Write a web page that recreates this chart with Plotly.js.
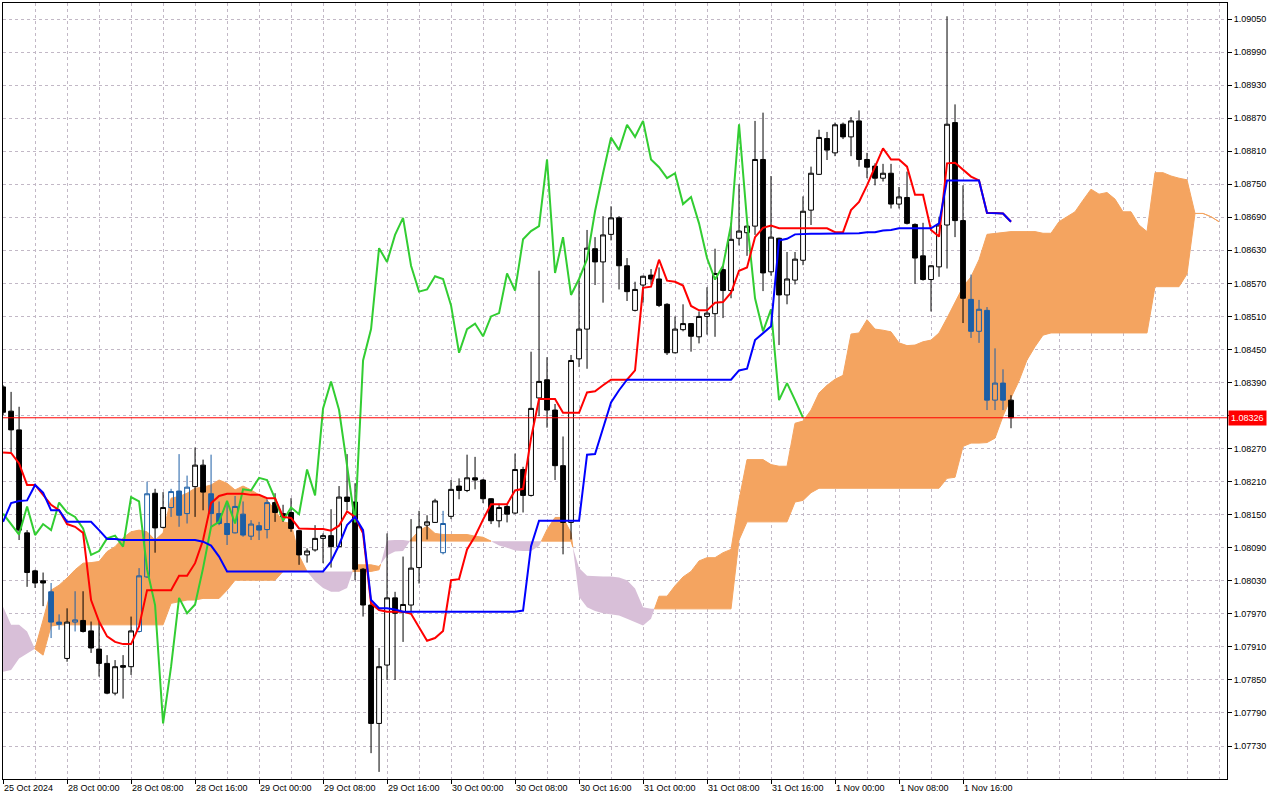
<!DOCTYPE html>
<html>
<head>
<meta charset="utf-8">
<script src="https://cdn.plot.ly/plotly-3.0.1.min.js"></script>
<style>
html,body{margin:0;padding:0;background:#ffffff;}
#chart{width:1280px;height:800px;}
</style>
</head>
<body>
<div id="chart"></div>
<script>
// ---- time axis labels (one every 8 hourly bars) ----
const timeLabels = ["25 Oct 2024","28 Oct 00:00","28 Oct 08:00","28 Oct 16:00","29 Oct 00:00","29 Oct 08:00","29 Oct 16:00","30 Oct 00:00","30 Oct 08:00","30 Oct 16:00","31 Oct 00:00","31 Oct 08:00","31 Oct 16:00","1 Nov 00:00","1 Nov 08:00","1 Nov 16:00"];

// ---- price axis labels ----
const priceTicks = [1.07730,1.07790,1.07850,1.07910,1.07970,1.08030,1.08090,1.08150,1.08210,1.08270,1.08330,1.08390,1.08450,1.08510,1.08570,1.08630,1.08690,1.08750,1.08810,1.08870,1.08930,1.08990,1.09050];
const lastPrice = 1.08326;

// ---- EURUSD H1 candles ----
const openP = [1.08382,1.08338,1.08304,1.08117,1.08048,1.08030,1.08010,1.07955,1.07889,1.07955,
1.07958,1.07939,1.07906,1.07880,1.07826,1.07876,1.07874,1.07938,1.08037,1.08189,
1.08127,1.08163,1.08193,1.08152,1.08201,1.08240,1.08188,1.08152,1.08134,1.08117,
1.08151,1.08111,1.08130,1.08123,1.08172,1.08152,1.08154,1.08121,1.08077,1.08086,
1.08107,1.08112,1.08092,1.08182,1.08173,1.08051,1.07986,1.07771,1.07877,1.07999,
1.07973,1.07986,1.08054,1.08131,1.08136,1.08081,1.08147,1.08202,1.08194,1.08217,
1.08213,1.08179,1.08139,1.08165,1.08153,1.08232,1.08185,1.08362,1.08395,1.08340,
1.08239,1.08136,1.08433,1.08487,1.08633,1.08609,1.08659,1.08689,1.08602,1.08521,
1.08567,1.08585,1.08578,1.08532,1.08444,1.08486,1.08497,1.08473,1.08510,1.08515,
1.08595,1.08557,1.08652,1.08662,1.08674,1.08795,1.08591,1.08652,1.08549,1.08576,
1.08612,1.08703,1.08768,1.08833,1.08807,1.08859,1.08836,1.08865,1.08795,1.08783,
1.08761,1.08770,1.08714,1.08726,1.08677,1.08620,1.08577,1.08600,1.08676,1.08862,
1.08684,1.08541,1.08483,1.08521,1.08358,1.08389,1.08358];

const highP = [1.08385,1.08373,1.08346,1.08122,1.08050,1.08045,1.08026,1.07969,1.07980,1.08011,
1.08011,1.07956,1.07955,1.07895,1.07886,1.07895,1.07965,1.08053,1.08210,1.08197,
1.08191,1.08197,1.08260,1.08221,1.08272,1.08250,1.08259,1.08174,1.08174,1.08184,
1.08174,1.08140,1.08137,1.08178,1.08189,1.08168,1.08180,1.08122,1.08089,1.08131,
1.08116,1.08160,1.08202,1.08260,1.08207,1.08053,1.07989,1.07908,1.08116,1.08010,
1.08074,1.08142,1.08157,1.08149,1.08179,1.08157,1.08213,1.08216,1.08259,1.08255,
1.08215,1.08180,1.08170,1.08168,1.08261,1.08237,1.08446,1.08593,1.08436,1.08351,
1.08292,1.08440,1.08575,1.08667,1.08654,1.08692,1.08710,1.08692,1.08616,1.08573,
1.08584,1.08596,1.08599,1.08534,1.08510,1.08532,1.08498,1.08519,1.08563,1.08633,
1.08602,1.08680,1.08750,1.08675,1.08865,1.08880,1.08765,1.08653,1.08627,1.08627,
1.08728,1.08782,1.08849,1.08845,1.08862,1.08862,1.08872,1.08884,1.08807,1.08788,
1.08787,1.08787,1.08745,1.08773,1.08679,1.08680,1.08603,1.08691,1.09055,1.08895,
1.08748,1.08586,1.08540,1.08527,1.08452,1.08414,1.08367];

const lowP = [1.08331,1.08264,1.08104,1.08019,1.08017,1.07984,1.07926,1.07941,1.07883,1.07938,
1.07936,1.07899,1.07856,1.07824,1.07822,1.07816,1.07859,1.07936,1.08035,1.08081,
1.08125,1.08146,1.08128,1.08134,1.08146,1.08158,1.08128,1.08131,1.08095,1.08116,
1.08110,1.08104,1.08104,1.08107,1.08137,1.08137,1.08119,1.08059,1.08063,1.08083,
1.08062,1.08054,1.08091,1.08158,1.08031,1.07965,1.07717,1.07683,1.07850,1.07850,
1.07919,1.07973,1.08025,1.08105,1.08135,1.08078,1.08142,1.08178,1.08191,1.08196,
1.08171,1.08133,1.08127,1.08136,1.08151,1.08154,1.08183,1.08329,1.08308,1.08213,
1.08078,1.08105,1.08418,1.08415,1.08567,1.08535,1.08648,1.08559,1.08538,1.08519,
1.08535,1.08568,1.08527,1.08440,1.08443,1.08483,1.08446,1.08461,1.08477,1.08473,
1.08507,1.08543,1.08639,1.08620,1.08658,1.08556,1.08584,1.08458,1.08532,1.08568,
1.08603,1.08676,1.08767,1.08794,1.08801,1.08832,1.08801,1.08782,1.08761,1.08748,
1.08755,1.08706,1.08706,1.08677,1.08569,1.08575,1.08519,1.08582,1.08597,1.08654,
1.08498,1.08471,1.08462,1.08340,1.08340,1.08340,1.08307];

const closeP = [1.08336,1.08304,1.08122,1.08045,1.08026,1.08026,1.07955,1.07951,1.07955,1.07959,
1.07938,1.07908,1.07880,1.07826,1.07874,1.07873,1.07939,1.08039,1.08188,1.08126,
1.08163,1.08192,1.08149,1.08200,1.08240,1.08191,1.08152,1.08134,1.08114,1.08165,
1.08113,1.08133,1.08122,1.08172,1.08154,1.08146,1.08125,1.08077,1.08084,1.08107,
1.08112,1.08092,1.08182,1.08174,1.08051,1.07986,1.07771,1.07874,1.07999,1.07971,
1.07987,1.08053,1.08128,1.08137,1.08175,1.08134,1.08196,1.08194,1.08217,1.08213,
1.08179,1.08139,1.08163,1.08151,1.08232,1.08185,1.08343,1.08392,1.08340,1.08239,
1.08136,1.08430,1.08487,1.08634,1.08609,1.08658,1.08689,1.08602,1.08555,1.08559,
1.08583,1.08578,1.08530,1.08444,1.08487,1.08497,1.08474,1.08510,1.08516,1.08588,
1.08557,1.08650,1.08665,1.08674,1.08795,1.08589,1.08654,1.08549,1.08578,1.08614,
1.08701,1.08770,1.08835,1.08812,1.08858,1.08836,1.08865,1.08795,1.08781,1.08761,
1.08770,1.08714,1.08727,1.08679,1.08616,1.08577,1.08602,1.08676,1.08859,1.08684,
1.08543,1.08483,1.08523,1.08358,1.08389,1.08358,1.08326];

// ---- Ichimoku lines ----
const tenkan = [1.08263,1.08262,1.08243,1.08204,1.08204,1.08186,1.08168,1.08158,1.08133,1.08128,
1.08117,1.07995,1.07956,1.07929,1.07919,1.07915,1.07915,1.07947,1.08013,1.08013,
1.08013,1.08013,1.08039,1.08039,1.08062,1.08104,1.08171,1.08184,1.08188,1.08188,
1.08188,1.08186,1.08186,1.08180,1.08180,1.08146,1.08144,1.08125,1.08124,1.08124,
1.08124,1.08121,1.08130,1.08156,1.08146,1.08116,1.07989,1.07977,1.07974,1.07974,
1.07974,1.07970,1.07946,1.07921,1.07926,1.07939,1.08031,1.08033,1.08087,1.08111,
1.08141,1.08169,1.08169,1.08169,1.08194,1.08197,1.08289,1.08360,1.08360,1.08360,
1.08335,1.08335,1.08335,1.08372,1.08374,1.08385,1.08395,1.08395,1.08395,1.08412,
1.08562,1.08564,1.08613,1.08575,1.08573,1.08566,1.08529,1.08521,1.08521,1.08535,
1.08536,1.08553,1.08593,1.08599,1.08654,1.08671,1.08675,1.08670,1.08670,1.08670,
1.08670,1.08670,1.08670,1.08670,1.08663,1.08663,1.08703,1.08718,1.08748,1.08782,
1.08815,1.08795,1.08795,1.08782,1.08731,1.08731,1.08667,1.08655,1.08788,1.08789,
1.08776,1.08764,1.08757,1.08698,1.08698,1.08697,1.08682];

const kijun = [1.08137,1.08171,1.08175,1.08176,1.08204,1.08190,1.08158,1.08158,1.08137,1.08137,
1.08137,1.08137,1.08122,1.08106,1.08106,1.08104,1.08104,1.08104,1.08104,1.08104,
1.08104,1.08104,1.08104,1.08104,1.08104,1.08101,1.08094,1.08074,1.08047,1.08047,
1.08047,1.08047,1.08047,1.08047,1.08047,1.08047,1.08047,1.08047,1.08047,1.08047,
1.08047,1.08065,1.08095,1.08131,1.08146,1.08122,1.07995,1.07980,1.07980,1.07978,
1.07974,1.07974,1.07974,1.07974,1.07974,1.07974,1.07974,1.07974,1.07974,1.07974,
1.07974,1.07974,1.07974,1.07974,1.07974,1.07976,1.08093,1.08139,1.08139,1.08139,
1.08139,1.08139,1.08139,1.08259,1.08260,1.08307,1.08354,1.08376,1.08395,1.08395,
1.08395,1.08395,1.08395,1.08395,1.08395,1.08395,1.08395,1.08395,1.08395,1.08395,
1.08395,1.08395,1.08412,1.08415,1.08467,1.08479,1.08492,1.08648,1.08651,1.08659,
1.08660,1.08660,1.08660,1.08660,1.08660,1.08660,1.08660,1.08661,1.08663,1.08663,
1.08666,1.08667,1.08670,1.08670,1.08670,1.08670,1.08670,1.08679,1.08757,1.08757,
1.08757,1.08757,1.08757,1.08698,1.08698,1.08697,1.08682];

// lagging span, plotted 26 bars back (bars 0..100)
const chikou = [1.08152,1.08134,1.08114,1.08165,1.08113,1.08133,1.08122,1.08172,1.08154,1.08146,
1.08125,1.08077,1.08084,1.08107,1.08112,1.08092,1.08182,1.08174,1.08051,1.07986,
1.07771,1.07874,1.07999,1.07971,1.07987,1.08053,1.08128,1.08137,1.08175,1.08134,
1.08196,1.08194,1.08217,1.08213,1.08179,1.08139,1.08163,1.08151,1.08232,1.08185,
1.08343,1.08392,1.08340,1.08239,1.08136,1.08430,1.08487,1.08634,1.08609,1.08658,
1.08689,1.08602,1.08555,1.08559,1.08583,1.08578,1.08530,1.08444,1.08487,1.08497,
1.08474,1.08510,1.08516,1.08588,1.08557,1.08650,1.08665,1.08674,1.08795,1.08589,
1.08654,1.08549,1.08578,1.08614,1.08701,1.08770,1.08835,1.08812,1.08858,1.08836,
1.08865,1.08795,1.08781,1.08761,1.08770,1.08714,1.08727,1.08679,1.08616,1.08577,
1.08602,1.08676,1.08859,1.08684,1.08543,1.08483,1.08523,1.08358,1.08389,1.08358,
1.08326];

// leading spans, plotted 26 bars ahead (bars 0..152)
const spanA = [1.07865,1.07868,1.07889,1.07898,1.07907,1.07959,1.08013,1.08022,1.08035,1.08050,
1.08062,1.08063,1.08065,1.08083,1.08092,1.08108,1.08119,1.08122,1.08119,1.08104,
1.08117,1.08180,1.08183,1.08189,1.08198,1.08200,1.08204,1.08213,1.08207,1.08195,
1.08202,1.08195,1.08186,1.08177,1.08158,1.08137,1.08134,1.08076,1.08047,1.08029,
1.08017,1.08010,1.08010,1.08017,1.08059,1.08059,1.08059,1.08056,1.08076,1.08083,
1.08084,1.08105,1.08121,1.08129,1.08116,1.08114,1.08114,1.08114,1.08114,1.08111,
1.08109,1.08102,1.08094,1.08090,1.08085,1.08084,1.08084,1.08093,1.08123,1.08145,
1.08145,1.08117,1.08001,1.07982,1.07975,1.07971,1.07969,1.07967,1.07961,1.07955,
1.07949,1.07961,1.08002,1.08002,1.08021,1.08037,1.08047,1.08066,1.08072,1.08072,
1.08081,1.08087,1.08177,1.08250,1.08250,1.08250,1.08241,1.08238,1.08238,1.08316,
1.08320,1.08340,1.08371,1.08385,1.08396,1.08403,1.08478,1.08480,1.08504,1.08487,
1.08485,1.08482,1.08462,1.08457,1.08458,1.08464,1.08467,1.08480,1.08507,1.08537,
1.08564,1.08582,1.08613,1.08659,1.08661,1.08663,1.08664,1.08664,1.08664,1.08664,
1.08661,1.08661,1.08682,1.08691,1.08700,1.08721,1.08741,1.08732,1.08735,1.08723,
1.08700,1.08700,1.08676,1.08664,1.08771,1.08771,1.08765,1.08761,1.08758,1.08697,
1.08697,1.08691,1.08682];

const spanB = [1.07983,1.07950,1.07950,1.07938,1.07906,1.07895,1.07948,1.07950,1.07950,1.07950,
1.07950,1.07950,1.07950,1.07950,1.07950,1.07950,1.07950,1.07950,1.07950,1.07950,
1.07950,1.07989,1.07992,1.07995,1.07995,1.07998,1.07998,1.07998,1.08013,1.08031,
1.08031,1.08031,1.08031,1.08031,1.08031,1.08047,1.08047,1.08047,1.08047,1.08047,
1.08047,1.08047,1.08047,1.08047,1.08047,1.08047,1.08047,1.08050,1.08103,1.08104,
1.08104,1.08102,1.08102,1.08102,1.08102,1.08102,1.08102,1.08102,1.08102,1.08102,
1.08102,1.08102,1.08102,1.08102,1.08102,1.08102,1.08102,1.08102,1.08102,1.08102,
1.08102,1.08102,1.08053,1.08039,1.08038,1.08038,1.08038,1.08036,1.08031,1.08016,
1.07982,1.07979,1.07979,1.07979,1.07979,1.07979,1.07979,1.07979,1.07979,1.07979,
1.07979,1.07979,1.08104,1.08137,1.08137,1.08137,1.08137,1.08137,1.08137,1.08173,
1.08176,1.08190,1.08198,1.08198,1.08198,1.08198,1.08198,1.08198,1.08198,1.08198,
1.08198,1.08198,1.08198,1.08198,1.08198,1.08198,1.08198,1.08198,1.08216,1.08218,
1.08274,1.08280,1.08280,1.08281,1.08289,1.08329,1.08362,1.08393,1.08431,1.08455,
1.08476,1.08480,1.08480,1.08480,1.08480,1.08480,1.08480,1.08480,1.08480,1.08480,
1.08480,1.08480,1.08480,1.08480,1.08564,1.08564,1.08564,1.08564,1.08587,1.08697,
1.08697,1.08691,1.08682];

// ---------- build traces ----------
const COL_BULL_CLOUD = '#f4a460';
const COL_BEAR_CLOUD = '#d8bfd8';
const GRID = '#c2b8c6';
const FONT = 'Liberation Sans, Arial, sans-serif';

const barX = closeP.map((_, i) => i);
const chikouX = chikou.map((_, i) => i);

function cloudPolygons(sign) {
  const xs = [], ys = [];
  let top = [], bot = [];
  const n = spanA.length;
  const flush = () => {
    if (top.length > 1) {
      for (const p of top) { xs.push(p[0]); ys.push(p[1]); }
      for (let k = bot.length - 1; k >= 0; k--) { xs.push(bot[k][0]); ys.push(bot[k][1]); }
      xs.push(top[0][0]); ys.push(top[0][1]);
      xs.push(null); ys.push(null);
    }
    top = []; bot = [];
  };
  for (let i = 0; i < n; i++) {
    const d = sign * (spanA[i] - spanB[i]);
    if (d >= 0) { top.push([i, spanA[i]]); bot.push([i, spanB[i]]); }
    if (i < n - 1) {
      const d2 = sign * (spanA[i + 1] - spanB[i + 1]);
      if ((d >= 0) !== (d2 >= 0)) {
        const t = d / (d - d2);
        const xc = i + t, yc = spanA[i] + t * (spanA[i + 1] - spanA[i]);
        top.push([xc, yc]); bot.push([xc, yc]);
        if (d >= 0) flush();
      }
    }
  }
  flush();
  return { xs, ys };
}

const bull = cloudPolygons(1);
const bear = cloudPolygons(-1);

// candles whose body sits inside the cloud are drawn in the blended (blue) style
function inCloud(i) {
  const m = (openP[i] + closeP[i]) / 2;
  const lo = Math.min(spanA[i], spanB[i]), hi = Math.max(spanA[i], spanB[i]);
  return m > lo && m < hi;
}
const pick = (arr, want) => arr.map((v, i) => (inCloud(i) === want ? v : null));

const traces = [
  { type: 'scatter', mode: 'lines', x: bear.xs, y: bear.ys, fill: 'toself', fillcolor: COL_BEAR_CLOUD,
    line: { width: 0, color: COL_BEAR_CLOUD }, hoverinfo: 'skip', xaxis: 'x', yaxis: 'y', connectgaps: false },
  { type: 'scatter', mode: 'lines', x: bull.xs, y: bull.ys, fill: 'toself', fillcolor: COL_BULL_CLOUD,
    line: { width: 1, color: COL_BULL_CLOUD }, hoverinfo: 'skip', xaxis: 'x', yaxis: 'y', connectgaps: false },
  { type: 'candlestick', x: barX, open: pick(openP, false), high: pick(highP, false), low: pick(lowP, false), close: pick(closeP, false),
    increasing: { line: { color: '#000000', width: 1 }, fillcolor: '#ffffff' },
    decreasing: { line: { color: '#000000', width: 1 }, fillcolor: '#000000' },
    whiskerwidth: 0, hoverinfo: 'skip', xaxis: 'x2', yaxis: 'y2' },
  { type: 'candlestick', x: barX, open: pick(openP, true), high: pick(highP, true), low: pick(lowP, true), close: pick(closeP, true),
    increasing: { line: { color: '#1d5fa6', width: 1 }, fillcolor: 'rgba(0,0,0,0)' },
    decreasing: { line: { color: '#1d5fa6', width: 1 }, fillcolor: '#1d5fa6' },
    whiskerwidth: 0, hoverinfo: 'skip', xaxis: 'x2', yaxis: 'y2' },
  { type: 'scatter', mode: 'lines', x: chikouX, y: chikou, line: { color: '#32cd32', width: 2 },
    hoverinfo: 'skip', xaxis: 'x2', yaxis: 'y2' },
  { type: 'scatter', mode: 'lines', x: barX, y: tenkan, line: { color: '#ff0000', width: 2 },
    hoverinfo: 'skip', xaxis: 'x2', yaxis: 'y2' },
  { type: 'scatter', mode: 'lines', x: barX, y: kijun, line: { color: '#0000ff', width: 2 },
    hoverinfo: 'skip', xaxis: 'x2', yaxis: 'y2' }
];

// ---------- axes ----------
const X_RANGE = [-0.01, 153.0];
const Y_RANGE = [1.076701, 1.090791];
const labelBars = timeLabels.map((_, i) => i * 8);
const minorBars = [];
for (let b = 4; b <= 152; b += 4) { if (b % 8 !== 0 || b > 120) minorBars.push(b); }
// the 1.08330 label sits under the last-price tag, so its text is left blank
const priceText = priceTicks.map(v => (Math.abs(v - lastPrice) < 0.0002 ? '' : v.toFixed(5)));

const hiddenAxis = {
  fixedrange: true, showgrid: false, zeroline: false, showline: false,
  showticklabels: false, ticks: '', title: { text: '' }
};

const layout = {
  width: 1280, height: 800,
  margin: { l: 3, r: 53, t: 3, b: 21, pad: 0 },
  paper_bgcolor: '#ffffff', plot_bgcolor: '#ffffff',
  showlegend: false, hovermode: false,
  boxgap: 0.4, boxgroupgap: 0,
  font: { family: FONT, size: 9, color: '#000000' },
  xaxis: {
    range: X_RANGE, fixedrange: true, zeroline: false,
    showline: true, linecolor: '#000000', linewidth: 1, mirror: true,
    tickmode: 'array', tickvals: labelBars, ticktext: timeLabels,
    ticks: 'outside', ticklen: 4, tickcolor: '#000000', tickwidth: 1,
    ticklabelposition: 'outside right',
    tickfont: { family: FONT, size: 9, color: '#000000' },
    showgrid: true, gridcolor: GRID, gridwidth: 1, griddash: '3px,3px',
    minor: { tickmode: 'array', tickvals: minorBars, showgrid: true, gridcolor: GRID, gridwidth: 1, griddash: '3px,3px', ticks: '' },
    rangeslider: { visible: false },
    title: { text: '' }
  },
  yaxis: {
    range: Y_RANGE, fixedrange: true, zeroline: false, side: 'right',
    showline: true, linecolor: '#000000', linewidth: 1, mirror: true,
    tickmode: 'array', tickvals: priceTicks, ticktext: priceText,
    ticks: 'outside', ticklen: 4, tickcolor: '#000000', tickwidth: 1,
    tickfont: { family: FONT, size: 9, color: '#000000' },
    showgrid: true, gridcolor: GRID, gridwidth: 1, griddash: '3px,3px',
    title: { text: '' }
  },
  xaxis2: Object.assign({ overlaying: 'x', anchor: 'y2', range: X_RANGE, rangeslider: { visible: false } }, hiddenAxis),
  yaxis2: Object.assign({ overlaying: 'y', anchor: 'x2', range: Y_RANGE, side: 'right' }, hiddenAxis),
  shapes: [
    { type: 'line', xref: 'paper', x0: 0, x1: 1, yref: 'y', y0: lastPrice, y1: lastPrice,
      line: { color: '#ff0000', width: 1 }, layer: 'above' }
  ],
  annotations: [
    { xref: 'paper', x: 1, xanchor: 'left', xshift: 1, yref: 'y', y: lastPrice, yanchor: 'middle',
      text: lastPrice.toFixed(5), showarrow: false, bgcolor: '#ff0000', borderpad: 2,
      font: { family: FONT, size: 9, color: '#ffffff' } }
  ]
};

Plotly.newPlot('chart', traces, layout, { staticPlot: true, displayModeBar: false });
</script>
</body>
</html>
